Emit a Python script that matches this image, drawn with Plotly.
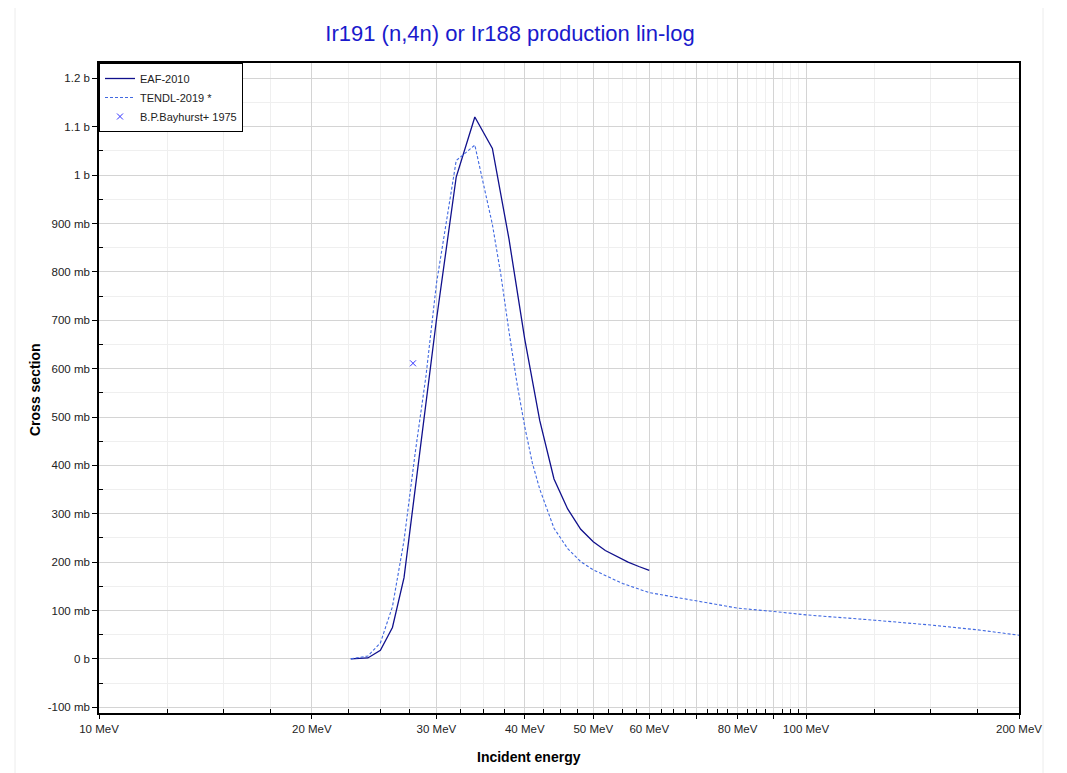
import plotly.graph_objects as go

# ---- data ----
eaf_energy = [22.7, 24, 25, 26, 27, 28, 29, 30, 32, 34, 36, 38, 40, 42, 44, 46, 48, 50, 52, 54, 56, 58, 60]
eaf_xs_mb = [0, 2, 18, 65, 168, 352, 534, 700, 996, 1120, 1055, 868, 661, 493, 372, 310, 268, 242,
             224, 211, 200, 191, 183]

tendl_energy = [22.7, 24, 25, 26, 27, 28, 29, 30, 32, 34, 36, 37, 38, 39, 40, 41, 42, 44, 46, 48, 50,
                55, 60, 70, 80, 90, 100, 125, 150, 175, 200]
tendl_xs_mb = [0, 6, 33, 108, 245, 426, 585, 775, 1030, 1062, 898, 795, 677, 570, 480, 405, 351, 270, 228, 201, 184,
               156, 137, 120, 105, 98, 91, 80, 70, 60, 49]

exp_energy = [27.8]
exp_xs_mb = [611]

x_tick_vals = [10, 20, 30, 40, 50, 60, 70, 80, 90, 100, 200]
x_tick_text = ["10 MeV", "20 MeV", "30 MeV", "40 MeV", "50 MeV", "60 MeV", "", "80 MeV", "", "100 MeV", "200 MeV"]
x_minor_vals = [v for base in range(10, 100, 10) for v in (base + 2.5, base + 5, base + 7.5)] + [125, 150, 175]

y_tick_vals = list(range(-100, 1201, 100))
y_tick_text = ["-100 mb", "0 b"] + [f"{v} mb" for v in range(100, 1000, 100)] + ["1 b", "1.1 b", "1.2 b"]
y_minor_vals = list(range(-50, 1201, 100))

FONT = "Liberation Sans, Arial, sans-serif"

# the page body adds an 8px margin; the figure is sized so the plot area lands where it does in the reference
W, H, OFF = 1059, 765, 8

fig = go.Figure()
fig.add_trace(go.Scatter(x=eaf_energy, y=eaf_xs_mb, mode="lines", name="EAF-2010",
                         line=dict(color="#10108c", width=1.3)))
fig.add_trace(go.Scatter(x=tendl_energy, y=tendl_xs_mb, mode="lines", name="TENDL-2019 *",
                         line=dict(color="#4169E1", width=1.1, dash="3px,2px")))
fig.add_trace(go.Scatter(x=exp_energy, y=exp_xs_mb, mode="markers", name="B.P.Bayhurst+ 1975",
                         marker=dict(symbol="x-thin", size=6, color="#3333ff",
                                     line=dict(color="#3333ff", width=1))))

fig.update_layout(
    width=W, height=H,
    margin=dict(l=99 - OFF, r=48, t=63 - OFF, b=60, pad=0),
    paper_bgcolor="white", plot_bgcolor="white",
    font=dict(family=FONT, size=11.5, color="#222222"),
    title=dict(text="Ir191 (n,4n) or Ir188 production lin-log", x=(510 - OFF) / W, xref="container",
               xanchor="center", y=1 - (33 - OFF) / H, yref="container", yanchor="middle",
               font=dict(family=FONT, size=22, color="#1a1acc")),
    showlegend=True,
    legend=dict(x=0, y=1, xanchor="left", yanchor="top", bgcolor="white",
                bordercolor="#000000", borderwidth=1, font=dict(size=11, color="#222222"),
                tracegroupgap=0, itemwidth=30),
    xaxis=dict(type="log", range=[1, 2.30103], tickvals=x_tick_vals, ticktext=x_tick_text,
               showgrid=True, gridcolor="#d4d4d4", gridwidth=1,
               ticks="outside", ticklen=4, tickcolor="#000", showline=True, linecolor="#000",
               linewidth=1.5, mirror=True, zeroline=False,
               minor=dict(tickvals=x_minor_vals, showgrid=True, gridcolor="#efefef",
                          ticks="inside", ticklen=4, tickcolor="#000")),
    yaxis=dict(range=[-111.8, 1231.7], tickvals=y_tick_vals, ticktext=y_tick_text,
               showgrid=True, gridcolor="#d4d4d4", gridwidth=1,
               ticks="outside", ticklen=5, tickcolor="#000", showline=True, linecolor="#000",
               linewidth=1.5, mirror=True, zeroline=False,
               minor=dict(tickvals=y_minor_vals, showgrid=True, gridcolor="#efefef",
                          ticks="inside", ticklen=4, tickcolor="#000")),
    annotations=[
        dict(text="<b>Incident energy</b>", xref="paper", yref="paper", x=(529 - 99) / 920,
             y=(713 - 757) / 650, xanchor="center", yanchor="middle", showarrow=False,
             font=dict(family=FONT, size=14, color="#000")),
        dict(text="<b>Cross section</b>", xref="paper", yref="paper", x=(35 - 99) / 920,
             y=(713 - 390) / 650, xanchor="center", yanchor="middle", showarrow=False,
             textangle=-90, font=dict(family=FONT, size=14, color="#000")),
    ],
    shapes=[
        dict(type="rect", xref="paper", yref="paper", x0=(15 - 99) / 920, x1=(1043 - 99) / 920,
             y0=(713 - 790) / 650, y1=(713 - 4) / 650, line=dict(color="#ececec", width=1),
             fillcolor="rgba(0,0,0,0)", layer="below"),
    ],
)

fig.write_html("out.html")
